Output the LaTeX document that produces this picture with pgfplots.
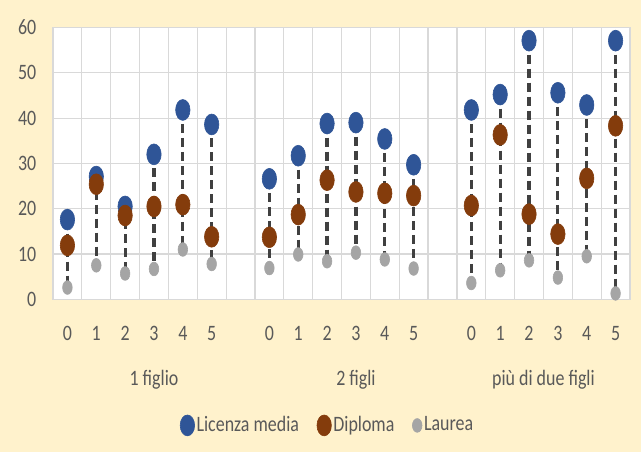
\documentclass[border=0pt]{standalone}
\usepackage{fontspec}
\setmainfont{Carlito}[FakeStretch=0.815]
\usepackage{pgfplots}
\usepackage{pgfplotstable}
\pgfplotsset{compat=1.18}
\definecolor{bgcream}{HTML}{FFF2CC}
\definecolor{cblue}{HTML}{2F5597}
\definecolor{cbrown}{HTML}{843C0C}
\definecolor{cgray}{HTML}{A5A5A5}
\definecolor{gridc}{HTML}{D9D9D9}
\definecolor{txt}{HTML}{595959}
\definecolor{dropc}{HTML}{404040}

\pgfplotstableread{
x lic dip lau
0.5 17.6 11.9 2.6
1.5 27.1 25.4 7.5
2.5 20.5 18.5 5.7
3.5 32.0 20.5 6.7
4.5 41.8 20.9 11.0
5.5 38.6 13.8 7.8
7.5 26.6 13.7 6.9
8.5 31.7 18.7 9.9
9.5 38.8 26.3 8.4
10.5 39.0 23.7 10.3
11.5 35.4 23.4 8.8
12.5 29.7 22.9 6.8
14.5 41.8 20.7 3.6
15.5 45.2 36.3 6.4
16.5 57.1 18.8 8.6
17.5 45.6 14.4 4.8
18.5 42.9 26.7 9.5
19.5 57.1 38.3 1.3
}\data

\begin{document}
\begin{tikzpicture}
\fill[bgcream] (0,0) rectangle (320.5pt,226pt);
\useasboundingbox (0,0) rectangle (320.5pt,226pt);
\begin{axis}[
  at={(26.5pt,76.35pt)}, anchor=south west,
  scale only axis, width=288.5pt, height=135.9pt,
  xmin=0, xmax=20, ymin=0, ymax=60,
  ytick={0,10,20,30,40,50,60},
  xtick={0.5,1.5,2.5,3.5,4.5,5.5,7.5,8.5,9.5,10.5,11.5,12.5,14.5,15.5,16.5,17.5,18.5,19.5},
  xticklabels={0,1,2,3,4,5,0,1,2,3,4,5,0,1,2,3,4,5},
  minor xtick={0,1,...,20},
  xminorgrids, ymajorgrids,
  grid style={gridc, line width=0.6pt},
  minor grid style={gridc, line width=0.6pt},
  axis line style={gridc, line width=0.6pt},
  major tick length=0pt, minor tick length=0pt,
  axis background/.style={fill=white},
  tick label style={font=\fontsize{11}{13}\selectfont, text=txt},
  xticklabel style={anchor=base, yshift=-20.7pt},
  yticklabel style={anchor=east, xshift=-4.8pt},
  /pgf/number format/assume math mode=true,
  clip=false,
  legend style={at={(0.476,-0.464)}, anchor=center, draw=none, fill=none,
    legend columns=3, font=\fontsize{11}{13}\selectfont, text=txt,
    nodes={inner sep=1pt, text=txt},
    /tikz/every even column/.append style={column sep=8pt}},
  legend image code/.code={\draw[#1] plot coordinates {(0pt,0pt)};},
]
\addplot[draw=none, forget plot,
  error bars/.cd, y dir=minus, y explicit, error mark=none,
  error bar style={draw=dropc, line width=1.6pt, dash pattern=on 4.5pt off 2.5pt}]
  table[x=x, y=lic, y error minus expr=\thisrow{lic}-\thisrow{lau}] {\data};
\addplot[only marks, color=cblue, mark=*, mark size=3.6pt, mark options={draw=cblue, fill=cblue, line width=0.3pt, yscale=1.45}]
  table[x=x, y=lic] {\data};
\addplot[only marks, color=cbrown, mark=*, mark size=3.6pt, mark options={draw=cbrown, fill=cbrown, line width=0.3pt, yscale=1.45}]
  table[x=x, y=dip] {\data};
\addplot[only marks, color=cgray, mark=*, mark size=2.4pt, mark options={draw=cgray, fill=cgray, line width=0.3pt, yscale=1.43}]
  table[x=x, y=lau] {\data};
\legend{Licenza media, Diploma, Laurea}
\node[anchor=base, text=txt, font=\fontsize{11}{13}\selectfont] at (axis cs:3.5,0) [yshift=-43.2pt] {1 figlio};
\node[anchor=base, text=txt, font=\fontsize{11}{13}\selectfont] at (axis cs:10.5,0) [yshift=-43.2pt] {2 figli};
\node[anchor=base, text=txt, font=\fontsize{11}{13}\selectfont] at (axis cs:17,0) [yshift=-43.2pt] {più di due figli};
\end{axis}
\end{tikzpicture}
\end{document}
